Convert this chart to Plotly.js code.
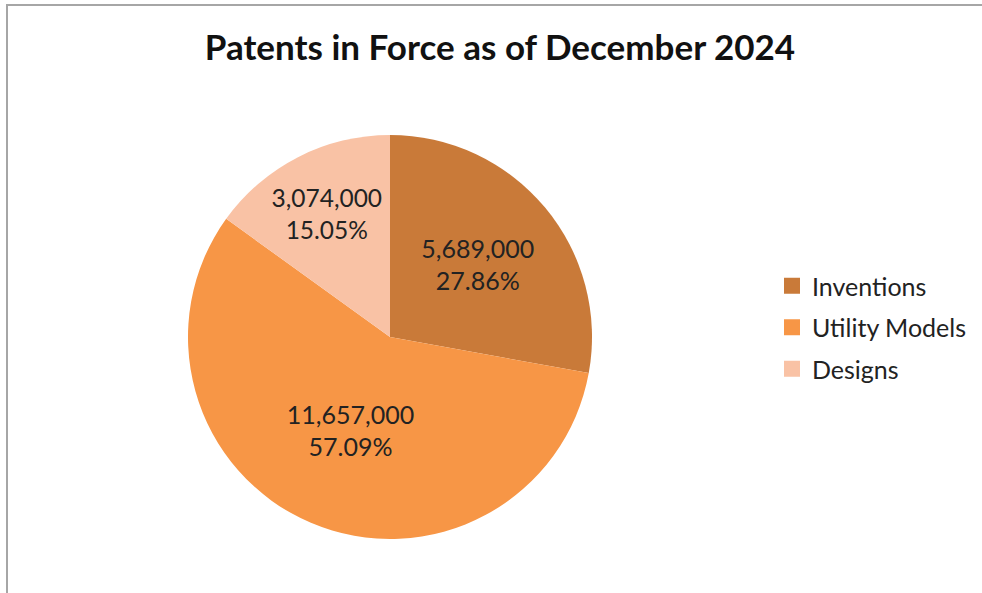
<!DOCTYPE html>
<html><head><meta charset="utf-8">
<script src="https://cdn.plot.ly/plotly-3.0.1.min.js"></script>
<style>html,body{margin:0;padding:0;background:#fff;}#chart{width:982px;height:593px;}</style>
</head><body><div id="chart"></div>
<script>
const categories = ["Inventions", "Utility Models", "Designs"];
const values = [5689000, 11657000, 3074000];
const colors = ["#C97A39", "#F79646", "#F9C2A5"];
const titleText = "Patents in Force as of December 2024";

const W = 982, H = 593;
const cx = 390, cy = 337, R = 202;
const FONT = "Lato, 'Liberation Sans', sans-serif";

const traces = [{
  type: "pie",
  labels: categories,
  values: values,
  sort: false,
  direction: "clockwise",
  rotation: 0,
  marker: {colors: colors, line: {width: 0}},
  texttemplate: "%{value:,}<br>%{percent:.2%}",
  textposition: "inside",
  insidetextorientation: "horizontal",
  insidetextfont: {family: FONT, size: 25, color: "#222222"},
  hoverinfo: "label+value+percent",
  showlegend: false,
  domain: {x: [(cx - R) / W, (cx + R) / W], y: [(H - cy - R) / H, (H - cy + R) / H]}
}];
categories.forEach((c, i) => {
  traces.push({
    type: "scatter", mode: "markers", x: [null], y: [null], name: c,
    legendgroup: "g" + i, showlegend: true,
    marker: {symbol: "square", size: 16, color: colors[i]},
    hoverinfo: "skip"
  });
});

const layout = {
  width: W, height: H,
  margin: {l: 0, r: 0, t: 0, b: 0},
  paper_bgcolor: "#ffffff", plot_bgcolor: "rgba(0,0,0,0)",
  title: {text: "<b>" + titleText + "</b>", font: {family: FONT, size: 35, color: "#111111"},
          x: 500 / W, xanchor: "center", y: 1 - 48 / H, yanchor: "middle"},
  xaxis: {visible: false, domain: [0.9, 0.91]},
  yaxis: {visible: false, domain: [0.9, 0.91]},
  legend: {x: 772 / W, xanchor: "left", y: 1 - 263 / H, yanchor: "top",
           font: {family: FONT, size: 25, color: "#222222"},
           tracegroupgap: 6, itemclick: false, bgcolor: "rgba(0,0,0,0)"},
  shapes: [{type: "rect", xref: "paper", yref: "paper",
            x0: 7 / W, x1: 1.05, y0: -0.05, y1: 1 - 5 / H,
            line: {color: "#A6A6A6", width: 2}, fillcolor: "rgba(0,0,0,0)", layer: "below"}]
};

Plotly.newPlot("chart", traces, layout, {displayModeBar: false, staticPlot: true});
</script></body></html>
